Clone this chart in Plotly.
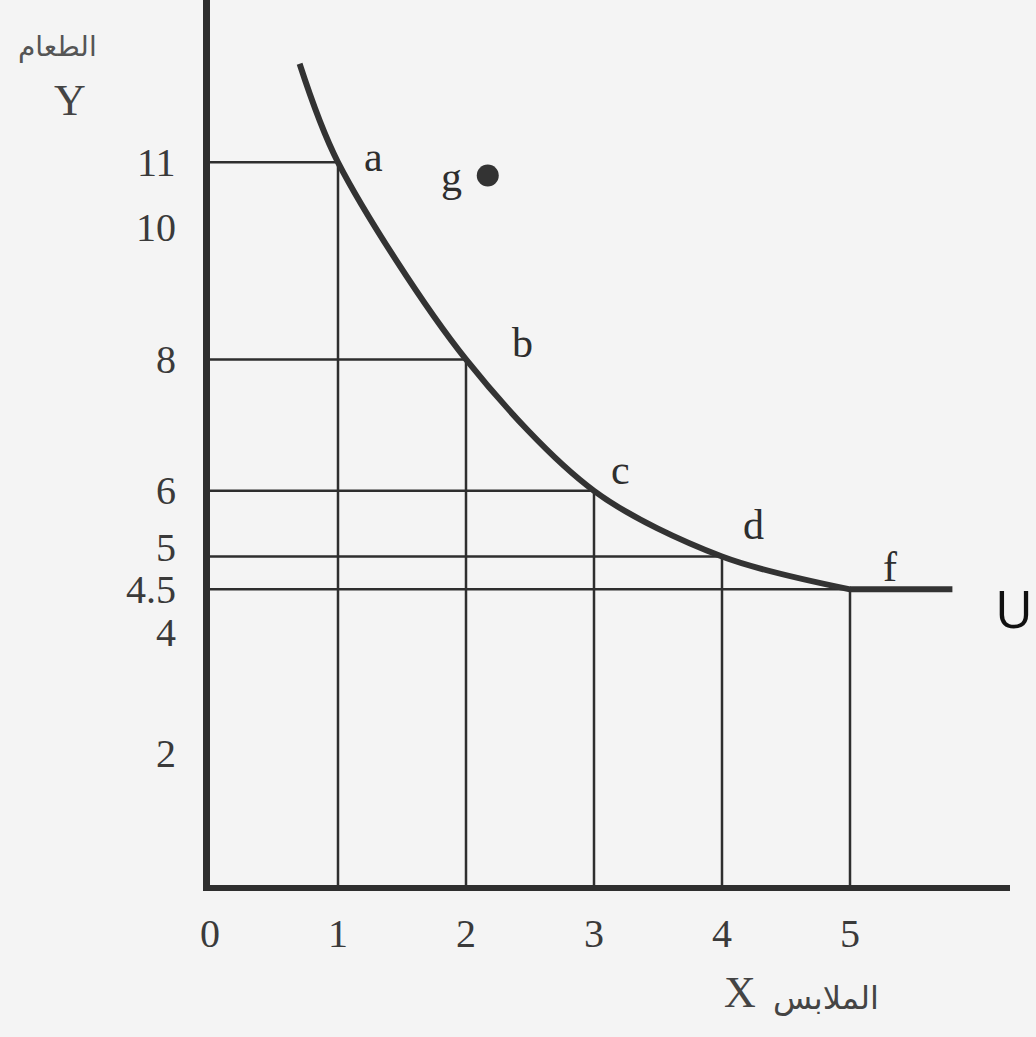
import plotly.graph_objects as go

# Bundles on the indifference curve U: clothing (X) vs food (Y)
point_names = ["a", "b", "c", "d", "f"]
clothing = [1, 2, 3, 4, 5]
food = [11, 8, 6, 5, 4.5]

# Ends of the drawn curve beyond the labelled bundles
curve_start = (0.7, 12.5)
curve_end = (5.8, 4.5)

# Bundle g lies above the curve
g_point = (2.17, 10.8)

x_ticks = [0, 1, 2, 3, 4, 5]
y_ticks = [2, 4, 4.5, 5, 6, 8, 10, 11]

ink = "#2e2e2e"
paper = "#f4f4f4"
serif = "Liberation Serif, Times New Roman, serif"

fig = go.Figure()

# Drop lines from each bundle to both axes
for xv, yv in zip(clothing, food):
    fig.add_trace(go.Scatter(
        x=[0, xv, xv], y=[yv, yv, 0], mode="lines",
        line=dict(color=ink, width=2.5), hoverinfo="skip", showlegend=False))

# Indifference curve: smooth through the bundles, then levelling off after f
cx = [curve_start[0]] + clothing
cy = [curve_start[1]] + food
fig.add_trace(go.Scatter(
    x=cx, y=cy, mode="lines",
    line=dict(color="#333333", width=6, shape="spline", smoothing=0.9),
    hoverinfo="skip", showlegend=False))
fig.add_trace(go.Scatter(
    x=[clothing[-1], curve_end[0]], y=[food[-1], curve_end[1]], mode="lines",
    line=dict(color="#333333", width=6), hoverinfo="skip", showlegend=False))

# Point g
fig.add_trace(go.Scatter(
    x=[g_point[0]], y=[g_point[1]], mode="markers",
    marker=dict(color="#333333", size=22), hoverinfo="skip", showlegend=False))

# Bundle labels
label_shift = {"a": (35, 5), "b": (56, 16), "c": (26, 21), "d": (31, 31), "f": (40, 22)}
for name, xv, yv in zip(point_names, clothing, food):
    dx, dy = label_shift[name]
    fig.add_annotation(x=xv, y=yv, text=name, showarrow=False, xshift=dx, yshift=dy,
                       font=dict(family=serif, size=42, color=ink))
fig.add_annotation(x=g_point[0], y=g_point[1], text="g", showarrow=False,
                   xshift=-36, yshift=-2, font=dict(family=serif, size=42, color=ink))

# Y tick labels, nudged apart where 4, 4.5 and 5 crowd together
tick_nudge = {5: 9, 4: -10}
for v in y_ticks:
    fig.add_annotation(xref="paper", yref="y", x=0, y=v, text="%g" % v, showarrow=False,
                       xanchor="right", yanchor="middle", xshift=-32,
                       yshift=tick_nudge.get(v, 0),
                       font=dict(family=serif, size=40, color="#3a3a3a"))

# Curve name and axis titles
fig.add_annotation(x=curve_end[0], y=curve_end[1], text="U", showarrow=False,
                   xshift=62, yshift=-18,
                   font=dict(family="Open Sans, sans-serif", size=52, color="#111111"))
fig.add_annotation(xref="paper", yref="paper", x=-0.175, y=0.886, text="Y", showarrow=False,
                   xanchor="center", yanchor="middle",
                   font=dict(family=serif, size=44, color="#444444"))
fig.add_annotation(xref="paper", yref="paper", x=-0.191, y=0.947, text="الطعام", showarrow=False,
                   xanchor="center", yanchor="middle",
                   font=dict(family="DejaVu Sans, sans-serif", size=28, color="#555555"))
fig.add_annotation(xref="paper", yref="paper", x=0.6625, y=-0.122, text="X", showarrow=False,
                   xanchor="center", yanchor="middle",
                   font=dict(family=serif, size=44, color="#444444"))
fig.add_annotation(xref="paper", yref="paper", x=0.77, y=-0.128, text="الملابس", showarrow=False,
                   xanchor="center", yanchor="middle",
                   font=dict(family="DejaVu Sans, sans-serif", size=32, color="#444444"))

fig.update_xaxes(
    range=[0, 6.25], tickvals=x_ticks, ticktext=[str(v) for v in x_ticks],
    showgrid=False, zeroline=False, showline=True, linecolor=ink, linewidth=6,
    ticks="outside", ticklen=8, tickcolor="rgba(0,0,0,0)",
    tickfont=dict(family=serif, size=40, color="#3a3a3a"))
fig.update_yaxes(
    range=[0, 13.47], showticklabels=False, ticks="",
    showgrid=False, zeroline=False, showline=True, linecolor=ink, linewidth=7)

fig.update_layout(
    width=1036, height=1037,
    margin=dict(l=210, r=26, t=0, b=152),
    paper_bgcolor=paper, plot_bgcolor=paper,
    showlegend=False)

fig.write_html("out.html")
